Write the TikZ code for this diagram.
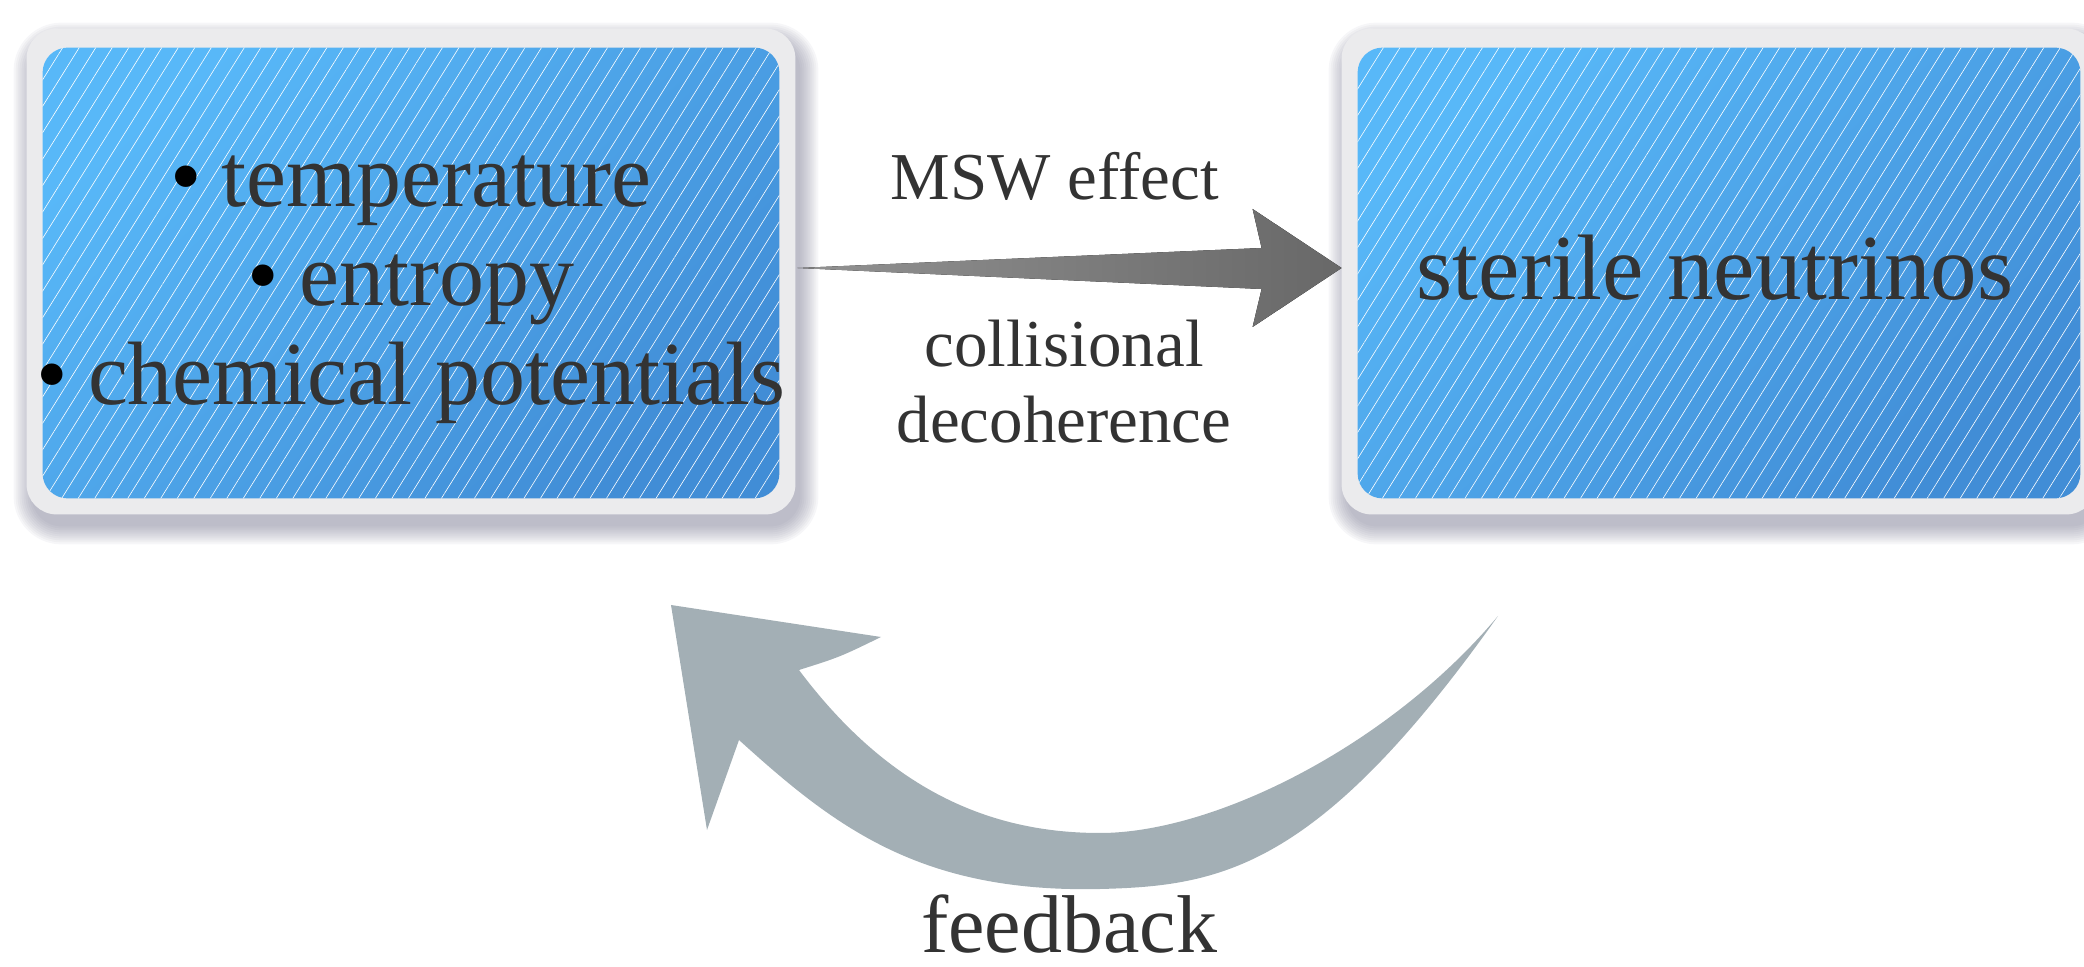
\documentclass[tikz,border=0pt]{standalone}
\usepackage{fontspec}
\setmainfont{Liberation Serif}
\usetikzlibrary{calc,patterns.meta}

\definecolor{txt}{HTML}{333333}
\definecolor{frameC}{HTML}{EBEBED}
\definecolor{blueA}{HTML}{58B8F8}
\definecolor{blueB}{HTML}{418DD6}
\definecolor{shadowC}{HTML}{6E6E88}
\definecolor{arrowA}{HTML}{929292}
\definecolor{arrowB}{HTML}{686868}
\definecolor{fbC}{HTML}{A3AFB5}

\tikzset{
  panel/.style={rectangle, inner sep=0pt, minimum height=242.5pt},
  boxtext/.style={text=txt, align=center, inner sep=0pt,
    font=\fontsize{45}{49.5}\selectfont},
  lbl/.style={text=txt, align=center, inner sep=0pt,
    font=\fontsize{33.5}{38}\selectfont},
  fbtext/.style={text=txt, inner sep=0pt, font=\fontsize{41}{45}\selectfont},
  frame/.style={fill=frameC, rounded corners=15pt},
  face/.style={top color=blueA, bottom color=blueB, shading angle=40,
    rounded corners=12.5pt},
  hatch/.style={pattern={Lines[angle=58,distance=7pt,line width=0.3pt]},
    pattern color=white, fill opacity=0.09, rounded corners=12.5pt},
  flow/.style={left color=arrowA, right color=arrowB},
  loop/.style={fill=fbC}
}
\newcommand{\bul}{{\color{black}\textbullet}\kern0.22em}

\begin{document}
\begin{tikzpicture}[x=0.5pt,y=-0.5pt]
\useasboundingbox (0,0) rectangle (2084,967);
\clip (0,0) rectangle (2084,967);

% the two panels (outer frame extents)
\node[panel, minimum width=384pt] (L) at (411,271.5) {};
\node[panel, minimum width=377pt] (R) at (1719,271.5) {};

% soft drop shadows, frames, shaded faces with fine hatching
\foreach \n in {L,R} {
  \foreach \i in {0,...,9} {
    \fill[shadowC, opacity=0.06, rounded corners={15pt+\i*1pt}]
      ($(\n.north west)+(5-\i*2,12-\i*2)$) rectangle
      ($(\n.south east)+(5+\i*2,12+\i*2)$);
  }
  \fill[frame] (\n.north west) rectangle (\n.south east);
  \path[face] ($(\n.north west)+(16,19)$) rectangle ($(\n.south east)+(-16,-16)$);
  \path[hatch] ($(\n.north west)+(16,19)$) rectangle ($(\n.south east)+(-16,-16)$);
}

% panel texts
\node[boxtext] (Ltext) at ($(L.center)+(0,18)$)
  {\bul temperature\\\bul entropy\\\bul chemical potentials};
\node[boxtext, anchor=base, font=\fontsize{46.5}{50}\selectfont] (Rtext)
  at (1715,300) {sterile neutrinos};

% tapered arrow between the panels
\coordinate (a0) at ($(L.east)+(2,-3.5)$);
\coordinate (a1) at ($(R.west)+(0,-3.5)$);
\fill[flow] (a0) -- ($(a1)+(-80,-20)$) -- ($(a1)+(-89,-59)$) -- (a1)
  -- ($(a1)+(-89,59)$) -- ($(a1)+(-80,21)$) -- cycle;
\node[lbl, anchor=base] (msw) at (1055,200) {MSW effect};
\node[lbl, anchor=base] (coll) at (1064,443) {collisional\\decoherence};

% curved feedback arrow below the panels
\coordinate (fbTail) at (1498,616);
\coordinate (fbTip) at (671,605);
\fill[loop] (fbTail) .. controls (1318,870) and (1220,886) .. (1100,889)
  .. controls (920,893) and (835,827) .. (739,740)
  -- (707,830) -- (fbTip) -- (881,637)
  .. controls (840,657) .. (799,670)
  .. controls (889,790) and (990,833) .. (1100,833)
  .. controls (1215,833) and (1390,745) .. (fbTail) -- cycle;
\node[fbtext, anchor=base] (fb) at (1069,952) {feedback};
\end{tikzpicture}
\end{document}
